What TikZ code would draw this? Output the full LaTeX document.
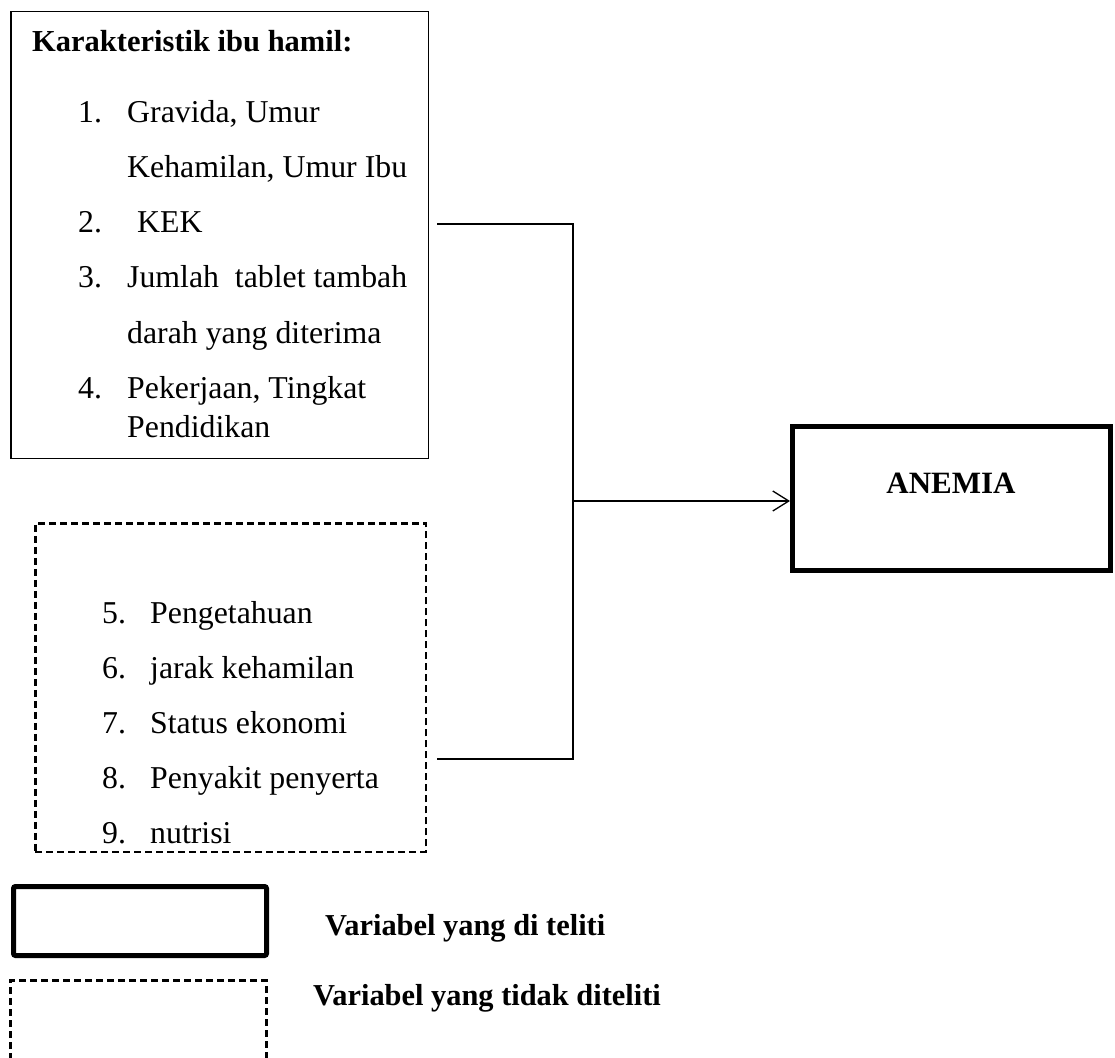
\documentclass[tikz,border=0pt]{standalone}
\usepackage{fontspec}
\setmainfont{Liberation Serif}
\usetikzlibrary{arrows.meta}
\begin{document}
\begin{tikzpicture}[x=1pt,y=-1pt,
		txt/.style={anchor=base west,inner sep=0pt,font=\fontsize{31.8}{38}\selectfont},
		bold/.style={anchor=base west,inner sep=0pt,font=\fontsize{30.5}{37}\selectfont\bfseries},
		frame/.style={draw,minimum width=#1,inner sep=0pt},
		conn/.style={line width=1.3pt}]
		\useasboundingbox (0,0) rectangle (1115,1057);
		% kotak variabel yang diteliti
		\node[frame=417.5pt,minimum height=446.5pt,line width=1.5pt] (kar) at (219.5,235) {};
		\node[bold] (kartitle) at (32,52) {Karakteristik ibu hamil:};
		\node[txt] (n1) at (78,122) {1.};
		\node[txt] (t1) at (127,122) {Gravida, Umur};
		\node[txt] (t1b) at (127,177) {Kehamilan, Umur Ibu};
		\node[txt] (n2) at (78,232) {2.};
		\node[txt] (t2) at (137,232) {KEK};
		\node[txt] (n3) at (78,287) {3.};
		\node[txt] (t3) at (127,287) {Jumlah\ \ tablet tambah};
		\node[txt] (t3b) at (127,343) {darah yang diterima};
		\node[txt] (n4) at (78,398) {4.};
		\node[txt] (t4) at (127,398) {Pekerjaan, Tingkat};
		\node[txt] (t4b) at (127,437) {Pendidikan};
		% kotak variabel yang tidak diteliti
		\node[frame=390.5pt,minimum height=328.5pt,line width=2.5pt,dash pattern=on 7pt off 4pt] (lain) at (230.5,687.5) {};
		\foreach \num/\isi/\y in {5/Pengetahuan/623,6/jarak kehamilan/678,7/Status ekonomi/733,8/Penyakit penyerta/788,9/nutrisi/843}{
			\node[txt] (n\num) at (102,\y) {\num.};
			\node[txt] (t\num) at (150,\y) {\isi};
		}
		% anemia
		\node[frame=318pt,minimum height=144pt,line width=5pt] (anemia) at (951.5,498.5) {};
		\node[bold,anchor=base,font=\fontsize{31}{37}\selectfont\bfseries] (anemiatxt) at (951,493) {ANEMIA};
		% penghubung
		\coordinate (karout) at (437,224);
		\coordinate (lainout) at (437,759);
		\coordinate (junc) at (573,501);
		\draw[conn] (karout) -| (junc) |- (lainout);
		\draw[conn,-{Straight Barb[length=16pt,width=20pt,line width=1.3pt]}] (junc) -- (junc -| anemia.west);
		% keterangan
		\node[frame=253pt,minimum height=69pt,line width=5pt,rounded corners=2pt] (legsolid) at (140,921) {};
		\node[bold,font=\fontsize{30.4}{36}\selectfont\bfseries] (legsolidtxt) at (325,935) {Variabel yang di teliti};
		\draw[line width=3pt,dash pattern=on 7pt off 4pt] (10.5,1060) |- (266.5,980.5) -- (266.5,1060);
		\node[bold,font=\fontsize{30.4}{36}\selectfont\bfseries] (legdashtxt) at (313,1005) {Variabel yang tidak diteliti};
	\end{tikzpicture}
\end{document}
